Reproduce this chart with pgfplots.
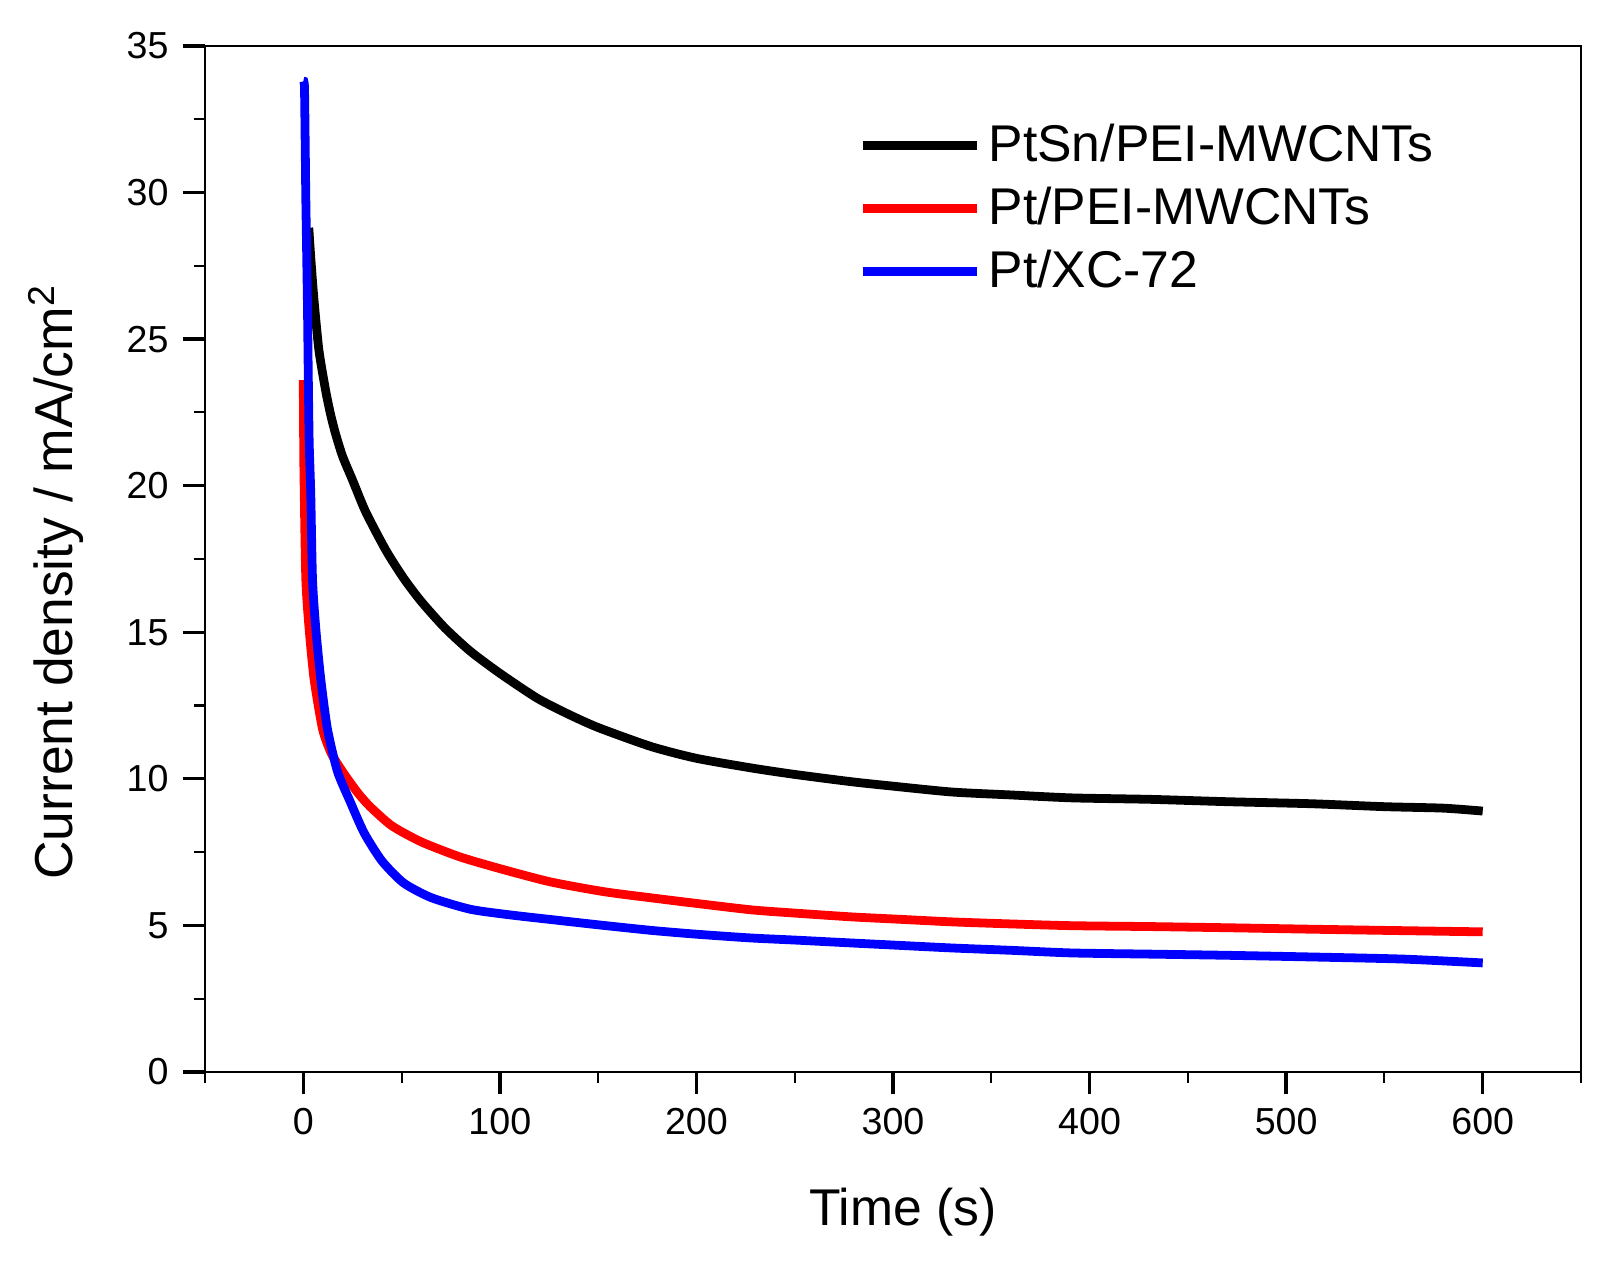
\documentclass[border=0pt]{standalone}
\usepackage{fontspec}
\setmainfont{Liberation Sans}
\usepackage{pgfplots}
\pgfplotsset{compat=1.18}

\begin{document}
\begin{tikzpicture}
\begin{axis}[
    scale only axis,
    width=13.76cm, height=10.26cm,
    xmin=-50, xmax=650,
    ymin=0, ymax=35,
    xtick={0,100,...,600},
    minor xtick={-50,50,...,650},
    ytick={0,5,...,35},
    minor ytick={2.5,7.5,...,32.5},
    tick align=outside,
    xtick pos=bottom, ytick pos=left,
    major tick length=0.22cm,
    minor tick length=0.11cm,
    every major tick/.append style={line width=0.95pt, black},
    every minor tick/.append style={line width=0.6pt, black},
    axis line style={line width=0.8pt},
    /pgf/number format/assume math mode=true,
    ticklabel style={font=\fontsize{10.7}{12.8}\selectfont},
    xticklabel style={yshift=-0.02cm},
    yticklabel style={xshift=-0.02cm},
    xlabel={Time (s)},
    ylabel={Current density / mA/cm\textsuperscript{2}},
    every axis x label/.style={at={(rel axis cs:0.5,0)}, anchor=center,
        font=\fontsize{14.7}{17.6}\selectfont, xshift=0.1cm, yshift=-1.40cm},
    every axis y label/.style={at={(rel axis cs:0,0.5)}, anchor=center, rotate=90,
        font=\fontsize{15.2}{18}\selectfont, xshift=-0.23cm, yshift=1.49cm},
    legend style={draw=none, fill=none, at={(rel axis cs:0.467,0.938)}, anchor=north west,
        font=\fontsize{14.7}{17.6}\selectfont, row sep=0.06cm},
    legend cell align=left,
    legend image code/.code={\draw[#1] (0cm,0cm) -- (1.14cm,0cm);},
    every axis plot/.append style={line width=2.5pt, smooth, tension=0.4},
]

\addplot[black] coordinates {
(2.8,28.8)(4,27.6)(5.5,26.3)(8,24.6)(11.5,23.2)(14,22.4)(16.5,21.75)(20,21.0)
(25,20.2)(31.8,19.1)(42,17.8)(51,16.85)(60,16.05)(72,15.15)(85,14.35)(100,13.6)
(119,12.75)(135,12.2)(150,11.75)(177,11.1)(200,10.7)(228,10.37)(250,10.15)(279,9.9)
(300,9.75)(330,9.55)(360,9.45)(391,9.35)(431,9.3)(470,9.22)(513,9.15)(550,9.05)
(580,9.0)(600,8.9)
};
\addlegendentry{PtSn/PEI-MWCNTs}

\addplot[red] coordinates {
(0,23.6)(0.2,21.5)(0.4,20.2)(1.3,16.8)(3,15.1)(5.5,13.4)(9.8,11.7)(14,10.9)
(18,10.45)(22,10.05)(28,9.5)(34,9.05)(45,8.4)(60,7.85)(80,7.33)(102,6.9)(126,6.48)
(153,6.15)(177,5.94)(200,5.75)(228,5.53)(250,5.42)(279,5.29)(300,5.22)(330,5.12)
(360,5.05)(391,4.99)(431,4.96)(470,4.92)(513,4.87)(550,4.83)(600,4.78)
};
\addlegendentry{Pt/PEI-MWCNTs}

\addplot[blue] coordinates {
(0,33.8)(0.6,33.6)(1,31.5)(1.3,29.75)(2.1,26.3)(2.5,24)(3,21.5)(3.8,19.75)
(4.7,16.8)(6.4,15.1)(8.9,13.4)(12.3,11.7)(17.4,10.25)(24,9.2)(31,8.15)(40,7.2)
(51,6.45)(65,5.95)(85,5.55)(105,5.36)(126,5.2)(150,5.02)(177,4.83)(200,4.7)
(228,4.57)(250,4.5)(279,4.40)(300,4.33)(330,4.23)(360,4.15)(391,4.06)(431,4.02)
(470,3.98)(515,3.92)(560,3.85)(600,3.72)
};
\addlegendentry{Pt/XC-72}

\coordinate (SW) at (rel axis cs:0,0);
\coordinate (NE) at (rel axis cs:1,1);
\end{axis}
\path ([xshift=-2.05cm,yshift=-1.89cm]SW) rectangle ([xshift=0.18cm,yshift=0.46cm]NE);
\end{tikzpicture}
\end{document}
